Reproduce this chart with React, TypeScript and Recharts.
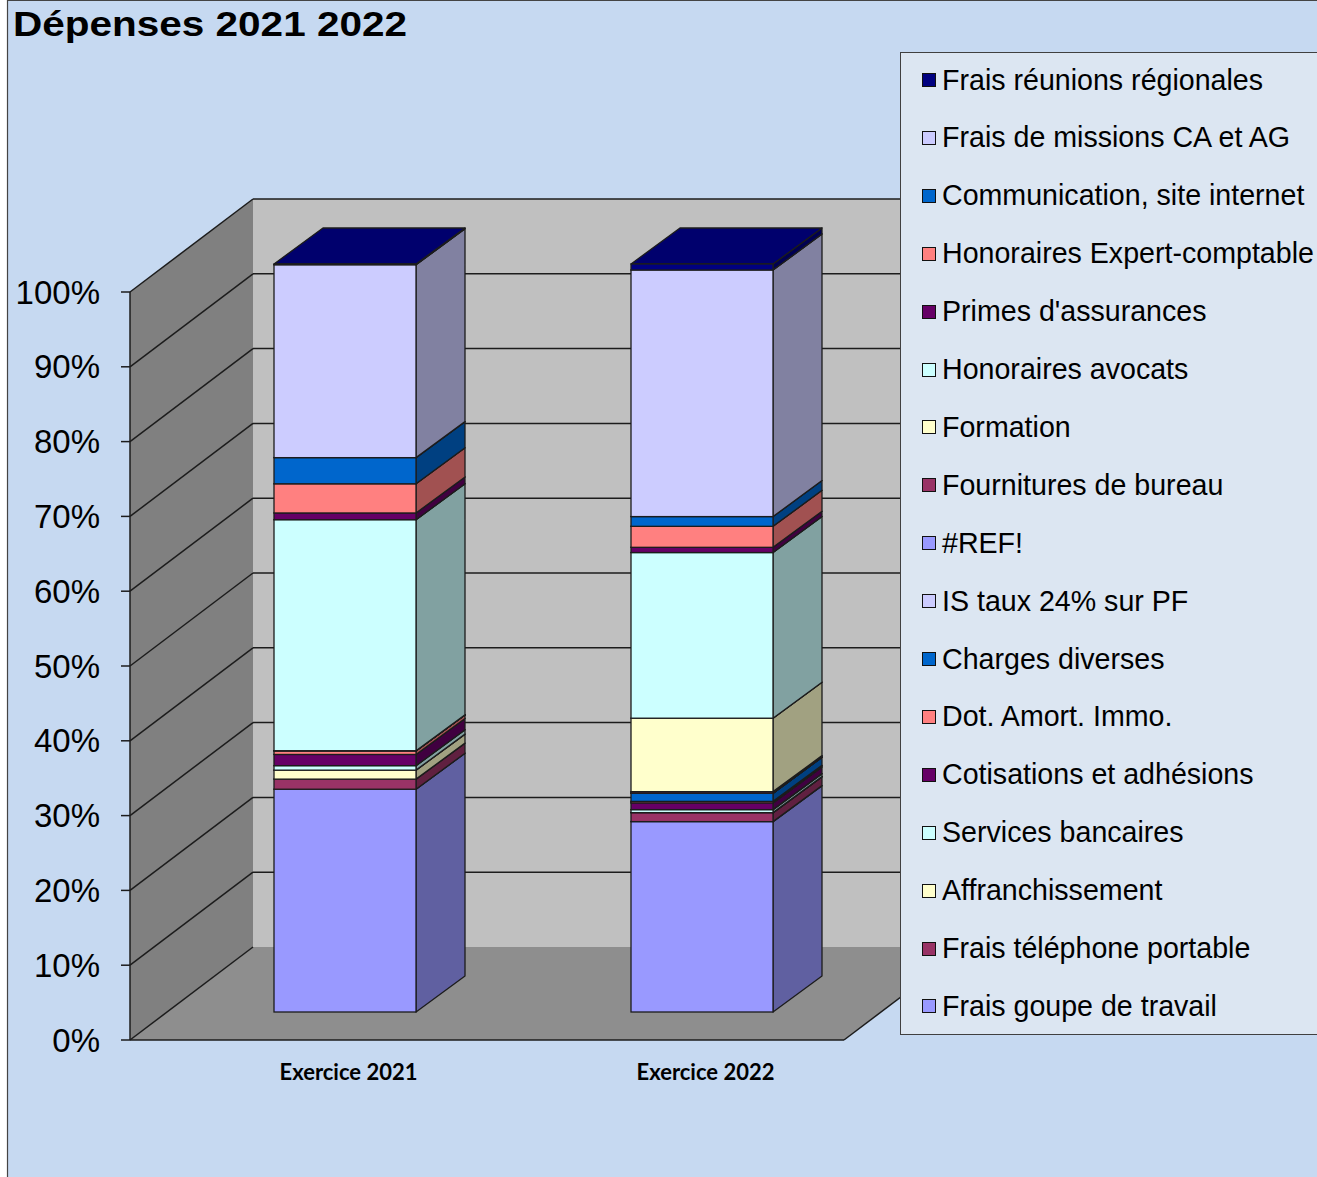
import { Bar, BarChart, CartesianGrid, Legend, XAxis, YAxis } from 'recharts';

const categories = ['Exercice 2021', 'Exercice 2022'];

// stacking order, bottom to top
const seriesNames = [
  'Frais goupe de travail',
  'Frais téléphone portable',
  'Affranchissement',
  'Services bancaires',
  'Cotisations et adhésions',
  'Dot. Amort. Immo.',
  'Charges diverses',
  'IS taux 24% sur PF',
  '#REF!',
  'Fournitures de bureau',
  'Formation',
  'Honoraires avocats',
  "Primes d'assurances",
  'Honoraires Expert-comptable',
  'Communication, site internet',
  'Frais de missions CA et AG',
  'Frais réunions régionales',
];

const seriesColors = [
  '#9999FF', '#993366', '#FFFFCC', '#CCFFFF', '#660066', '#FF8080', '#0066CC', '#CCCCFF', '#9999FF',
  '#993366', '#FFFFCC', '#CCFFFF', '#660066', '#FF8080', '#0066CC', '#CCCCFF', '#000080',
];

// share of each item in %, same order as seriesNames
const values2021 = [29.8, 1.35, 1.2, 0.6, 1.5, 0.5, 0, 0, 0, 0, 0, 30.9, 0.9, 3.9, 3.5, 25.8, 0.1];
const values2022 = [25.4, 1.2, 0, 0.4, 0.9, 0.2, 1.1, 0, 0, 0.2, 9.8, 22.1, 0.7, 2.8, 1.3, 32.9, 0.8];

const yTicks = [0, 0.1, 0.2, 0.3, 0.4, 0.5, 0.6, 0.7, 0.8, 0.9, 1];

const data = categories.map((name, i) => {
  const vals = i === 0 ? values2021 : values2022;
  const row: Record<string, string | number> = { name };
  seriesNames.forEach((_, k) => {
    row[`s${k}`] = vals[k];
  });
  return row;
});

// layout of the fake 3D box (bar plane = recharts plot area)
const W = 1317;
const H = 1177;
const PLOT = { left: 166, right: 880, top: 264, bottom: 1012 };
const FRONT = { dx: -36, dy: 28 }; // floor front edge relative to bar plane
const BACK = { dx: 87, dy: -65 }; // back wall relative to bar plane
const DEPTH = { dx: 49, dy: -36 }; // bar depth
const AXIS_X = PLOT.left + FRONT.dx;

const font = "'Liberation Sans', Arial, sans-serif";
const edge = '#1c1c1c';

function shade(hex: string, f: number) {
  const n = parseInt(hex.slice(1), 16);
  const c = [(n >> 16) & 255, (n >> 8) & 255, n & 255].map((v) => Math.round(v * f));
  return `rgb(${c[0]},${c[1]},${c[2]})`;
}

function Bar3D(props: any) {
  const { x, y, width, height, fill } = props;
  if (x == null || width == null) return null;
  const r = x + width;
  const { dx, dy } = DEPTH;
  return (
    <g>
      <polygon
        points={`${r},${y + height} ${r},${y} ${r + dx},${y + dy} ${r + dx},${y + height + dy}`}
        fill={shade(fill, 0.63)}
        stroke={edge}
        strokeWidth={1.3}
        strokeLinejoin="round"
      />
      <polygon
        points={`${x},${y} ${x + dx},${y + dy} ${r + dx},${y + dy} ${r},${y}`}
        fill={shade(fill, 0.85)}
        stroke={edge}
        strokeWidth={1.3}
        strokeLinejoin="round"
      />
      <rect x={x} y={y} width={width} height={height} fill={fill} stroke={edge} strokeWidth={1.3} />
    </g>
  );
}

// grid line: diagonal on the side wall + horizontal on the back wall
function WallLine(p: any) {
  const y = p.y1;
  const x1 = p.x1;
  const x2 = p.x2;
  const isFloor = Math.abs(y - PLOT.bottom) < 1;
  return (
    <g>
      <line
        x1={x1 + FRONT.dx}
        y1={y + FRONT.dy}
        x2={x1 + BACK.dx}
        y2={y + BACK.dy}
        stroke={edge}
        strokeWidth={1.5}
      />
      {!isFloor && (
        <line x1={x1 + BACK.dx} y1={y + BACK.dy} x2={x2 + BACK.dx} y2={y + BACK.dy} stroke={edge} strokeWidth={1.5} />
      )}
    </g>
  );
}

function YTick(p: any) {
  const y = p.y + FRONT.dy;
  return (
    <g>
      <line x1={AXIS_X - 9} y1={y} x2={AXIS_X} y2={y} stroke={edge} strokeWidth={1.5} />
      <text x={100} y={y} textAnchor="end" dominantBaseline="central" fontFamily={font} fontSize={33} fill="#000">
        {`${Math.round(p.payload.value * 100)}%`}
      </text>
    </g>
  );
}

function XTick(p: any) {
  return (
    <text
      x={p.x + 4}
      y={p.y + 60}
      textAnchor="middle"
      dominantBaseline="central"
      fontFamily="Lato, 'Open Sans', sans-serif"
      fontWeight={700}
      fontSize={22}
      fill="#000"
    >
      {p.payload.value}
    </text>
  );
}

function LegendBox(props: any) {
  const items = [...(props.payload || [])].sort(
    (a: any, b: any) => Number(String(b.dataKey).slice(1)) - Number(String(a.dataKey).slice(1))
  );
  return (
    <div
      style={{
        position: 'relative',
        width: 430,
        height: 983,
        boxSizing: 'border-box',
        background: '#DCE6F2',
        border: '1px solid #404040',
        fontFamily: font,
        fontSize: 28.6,
        color: '#000',
      }}
    >
      {items.map((it: any, i: number) => (
        <div
          key={String(it.dataKey)}
          style={{ position: 'absolute', left: 21, top: 27 + i * 57.9 - 17, height: 34, display: 'flex', alignItems: 'center', whiteSpace: 'nowrap' }}
        >
          <span
            style={{
              display: 'inline-block',
              width: 12,
              height: 12,
              background: it.color,
              border: '1.5px solid #111',
              marginRight: 6,
            }}
          />
          <span>{it.value}</span>
        </div>
      ))}
    </div>
  );
}

function Walls() {
  const L = PLOT.left;
  const R = PLOT.right;
  const T = PLOT.top;
  const B = PLOT.bottom;
  const fl = [L + FRONT.dx, B + FRONT.dy];
  const fr = [R + FRONT.dx, B + FRONT.dy];
  const bl = [L + BACK.dx, B + BACK.dy];
  const br = [R + BACK.dx, B + BACK.dy];
  const tl = [L + FRONT.dx, T + FRONT.dy];
  const btl = [L + BACK.dx, T + BACK.dy];
  const btr = [R + BACK.dx, T + BACK.dy];
  const pts = (a: number[][]) => a.map((q) => q.join(',')).join(' ');
  return (
    <svg width={W} height={H} style={{ position: 'absolute', left: 0, top: 0 }}>
      <rect x={8} y={0} width={W - 8} height={H} fill="#C6D9F1" />
      <line x1={7.5} y1={0} x2={7.5} y2={H} stroke="#444" strokeWidth={1.2} />
      <line x1={8} y1={0.5} x2={W} y2={0.5} stroke="#444" strokeWidth={1.2} />
      <text
        x={13}
        y={36}
        fontFamily={font}
        fontWeight={700}
        fontSize={35}
        textLength={394}
        lengthAdjust="spacingAndGlyphs"
        fill="#000"
      >
        Dépenses 2021 2022
      </text>
      <polygon points={pts([btl, btr, br, bl])} fill="#C0C0C0" />
      <polygon points={pts([tl, btl, bl, fl])} fill="#808080" />
      <polygon points={pts([fl, fr, br, bl])} fill="#8E8E8E" />
      <line x1={fl[0]} y1={fl[1]} x2={fr[0]} y2={fr[1]} stroke={edge} strokeWidth={1.5} />
      <line x1={fr[0]} y1={fr[1]} x2={br[0]} y2={br[1]} stroke={edge} strokeWidth={1.5} />
      <line x1={tl[0]} y1={tl[1]} x2={fl[0]} y2={fl[1]} stroke={edge} strokeWidth={1.5} />
    </svg>
  );
}

export default function App() {
  return (
    <div style={{ position: 'relative', width: W, height: H, overflow: 'hidden', background: '#fff' }}>
      <style>{'body{margin:0}'}</style>
      <Walls />
      <div style={{ position: 'absolute', left: 0, top: 0 }}>
        <BarChart
          width={W}
          height={H}
          data={data}
          stackOffset="expand"
          barSize={142}
          margin={{ top: PLOT.top, right: W - PLOT.right, bottom: H - PLOT.bottom - 40, left: PLOT.left - 60 }}
        >
          <CartesianGrid vertical={false} horizontal={(p: any) => <WallLine {...p} />} />
          <XAxis
            dataKey="name"
            height={40}
            axisLine={false}
            tickLine={false}
            tick={(p: any) => <XTick {...p} y={p.y - 9} />}
          />
          <YAxis
            width={60}
            domain={[0, 1]}
            ticks={yTicks}
            axisLine={false}
            tickLine={false}
            tick={(p: any) => <YTick {...p} />}
          />
          <Legend
            layout="vertical"
            align="center"
            verticalAlign="middle"
            content={(p: any) => <LegendBox {...p} />}
            wrapperStyle={{ left: 900, top: 52, width: 430, height: 983 }}
          />
          {seriesNames.map((n, k) => (
            <Bar
              key={n + k}
              dataKey={`s${k}`}
              name={n}
              stackId="a"
              fill={seriesColors[k]}
              isAnimationActive={false}
              shape={(p: any) => <Bar3D {...p} />}
            />
          ))}
        </BarChart>
      </div>
    </div>
  );
}
